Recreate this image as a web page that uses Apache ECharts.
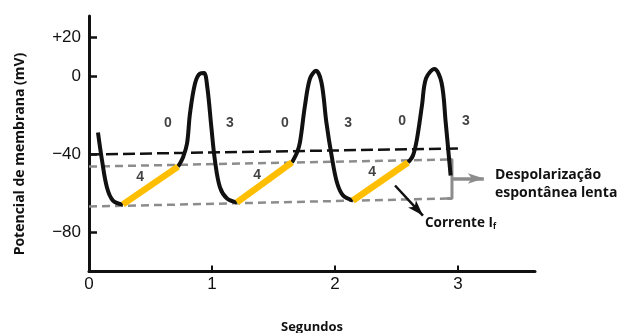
<!DOCTYPE html>
<html>
<head>
<meta charset="utf-8">
<script src="https://cdn.jsdelivr.net/npm/echarts@6/dist/echarts.min.js"></script>
<style>
  html, body { margin: 0; padding: 0; background: #fff; }
  #chart { width: 618px; height: 333px; }
</style>
</head>
<body>
<div id="chart"></div>
<script>
// potencial de acao do nodo sinusal (s, mV)
var decay0 = [[0.073, -28.7], [0.106, -43.1], [0.146, -56.9], [0.195, -63.6], [0.276, -65.6]]
var spike1 = [[0.724, -46.2], [0.764, -41.5], [0.797, -34.4], [0.821, -19.0], [0.862, -3.6], [0.902, 1.5], [0.935, 1.8],
  [0.962, -5.6], [0.995, -26.2], [1.024, -43.1], [1.065, -56.9], [1.122, -62.6], [1.203, -64.6]]
var spike2 = [[1.650, -44.1], [1.691, -39.0], [1.715, -33.8], [1.756, -14.9], [1.797, -1.0], [1.846, 2.9],
  [1.890, -3.1], [1.930, -23.6], [1.972, -40.5], [2.016, -54.4], [2.065, -61.0], [2.146, -63.6]]
var spike3 = [[2.593, -44.1], [2.634, -40.5], [2.667, -31.8], [2.707, -14.9], [2.740, -1.0], [2.808, 3.8],
  [2.866, -3.1], [2.900, -23.6], [2.925, -40.5], [2.940, -50.8]]

// fase 4 (amarelo)
var ramp1 = [[0.276, -65.6], [0.724, -46.2]]
var ramp2 = [[1.203, -64.6], [1.650, -44.1]]
var ramp3 = [[2.146, -63.6], [2.593, -44.1]]

// linhas tracejadas
var limiar = [[0, -40], [3.0, -36.9]]
var topoRampa = [[0, -46.2], [2.911, -42.6]]
var baseRampa = [[0, -66.7], [2.911, -62.6]]
var chave = [[2.911, -42.6], [2.951, -42.6], [2.951, -62.6], [2.911, -62.6]]

var fases = ['0', '3', '0', '3', '0', '3', '4', '4', '4']
var fasesPos = [[0.642, -24.1], [1.146, -24.1], [1.593, -24.1], [2.106, -24.1], [2.545, -23.1], [3.065, -23.1],
  [0.415, -51.8], [1.366, -50.8], [2.301, -49.2]]

var yTicks = [20, 0, -40, -80]
var yTickText = ['+20', '0', '\u221240', '\u221280']
var xTicks = [1, 2, 3]
var xLabels = [0, 1, 2, 3]

var chart = echarts.init(document.getElementById('chart'))

function linha(data, color, width, type, z) {
  return {
    type: 'line', data: data, symbol: 'none', silent: true, z: z,
    lineStyle: { color: color, width: width, type: type }
  }
}
function traco(data) {
  var s = linha(data, '#111', 4, 'solid', 5)
  s.smooth = 0.35
  return s
}

var series = [
  linha(limiar, '#111', 2.5, [12, 5], 2),
  linha(topoRampa, '#8c8c8c', 2.5, [8, 5], 2),
  linha(baseRampa, '#8c8c8c', 2.5, [8, 5], 2),
  traco(decay0), traco(spike1), traco(spike2), traco(spike3),
  linha(ramp1, '#ffbf00', 6.5, 'solid', 6),
  linha(ramp2, '#ffbf00', 6.5, 'solid', 6),
  linha(ramp3, '#ffbf00', 6.5, 'solid', 6),
  {
    type: 'line', data: chave, symbol: 'none', silent: true, z: 2,
    lineStyle: { color: '#8c8c8c', width: 3 },
    markLine: {
      silent: true,
      symbol: ['none', 'arrow'],
      label: { show: false },
      data: [
        [{ coord: [2.955, -52.3], lineStyle: { color: '#8c8c8c', width: 3.5, type: 'solid' }, symbolSize: 12 },
          { coord: [3.21, -52.3] }],
        [{ coord: [2.488, -55.9], lineStyle: { color: '#111', width: 2.5, type: 'solid' }, symbolSize: 10 },
          { coord: [2.715, -71.3] }]
      ]
    }
  },
  {
    type: 'scatter', symbolSize: 0, silent: true, z: 7,
    data: fasesPos.map(function (p, i) { return { value: p, name: fases[i] } }),
    label: {
      show: true, position: 'inside', formatter: '{b}',
      color: '#111', fontFamily: 'Liberation Sans', fontWeight: 'bold', fontSize: 14
    }
  }
]

var option = {
  backgroundColor: '#fff',
  animation: false,
  grid: { left: 89, right: 83, top: 16, bottom: 61.5, containLabel: false, outerBoundsMode: 'none' },
  xAxis: {
    type: 'value', min: 0, max: 3.626,
    name: 'Segundos', nameLocation: 'middle', nameGap: 49,
    nameTextStyle: { fontFamily: 'Open Sans', fontWeight: 'bold', fontSize: 13, color: '#111' },
    axisLine: { onZero: false, lineStyle: { color: '#111', width: 3 } },
    axisTick: { show: true, inside: true, length: 6, customValues: xTicks, lineStyle: { color: '#111', width: 2 } },
    axisLabel: { customValues: xLabels, margin: 4, color: '#111', fontFamily: 'Liberation Sans', fontSize: 17 },
    splitLine: { show: false }
  },
  yAxis: {
    type: 'value', min: -100, max: 31,
    axisLine: { show: true, onZero: false, lineStyle: { color: '#111', width: 3 } },
    axisTick: { show: true, inside: true, length: 8, customValues: yTicks, lineStyle: { color: '#111', width: 2.5 } },
    axisLabel: {
      customValues: yTicks, margin: 8, color: '#111', fontFamily: 'Liberation Sans', fontSize: 17,
      formatter: function (v) { return yTickText[yTicks.indexOf(v)] }
    },
    splitLine: { show: false }
  },
  graphic: [
    {
      type: 'text', x: 20, y: 154, rotation: Math.PI / 2,
      style: {
        text: 'Potencial de membrana (mV)', align: 'center', verticalAlign: 'middle',
        fontFamily: 'Open Sans', fontWeight: 'bold', fontSize: 14, fill: '#111'
      }
    },
    {
      type: 'text', left: 495, top: 166,
      style: {
        text: 'Despolarização\nespontânea lenta', lineHeight: 18,
        fontFamily: 'Open Sans', fontWeight: 'bold', fontSize: 14, fill: '#111'
      }
    },
    {
      type: 'text', left: 425, top: 216,
      style: {
        text: 'Corrente I{sub|f}',
        fontFamily: 'Open Sans', fontWeight: 'bold', fontSize: 13.5, fill: '#111',
        rich: { sub: { fontSize: 8, fontFamily: 'Open Sans', fontWeight: 'bold', padding: [8, 0, 0, 0], fill: '#111' } }
      }
    }
  ],
  series: series
}
chart.setOption(option)
</script>
</body>
</html>
